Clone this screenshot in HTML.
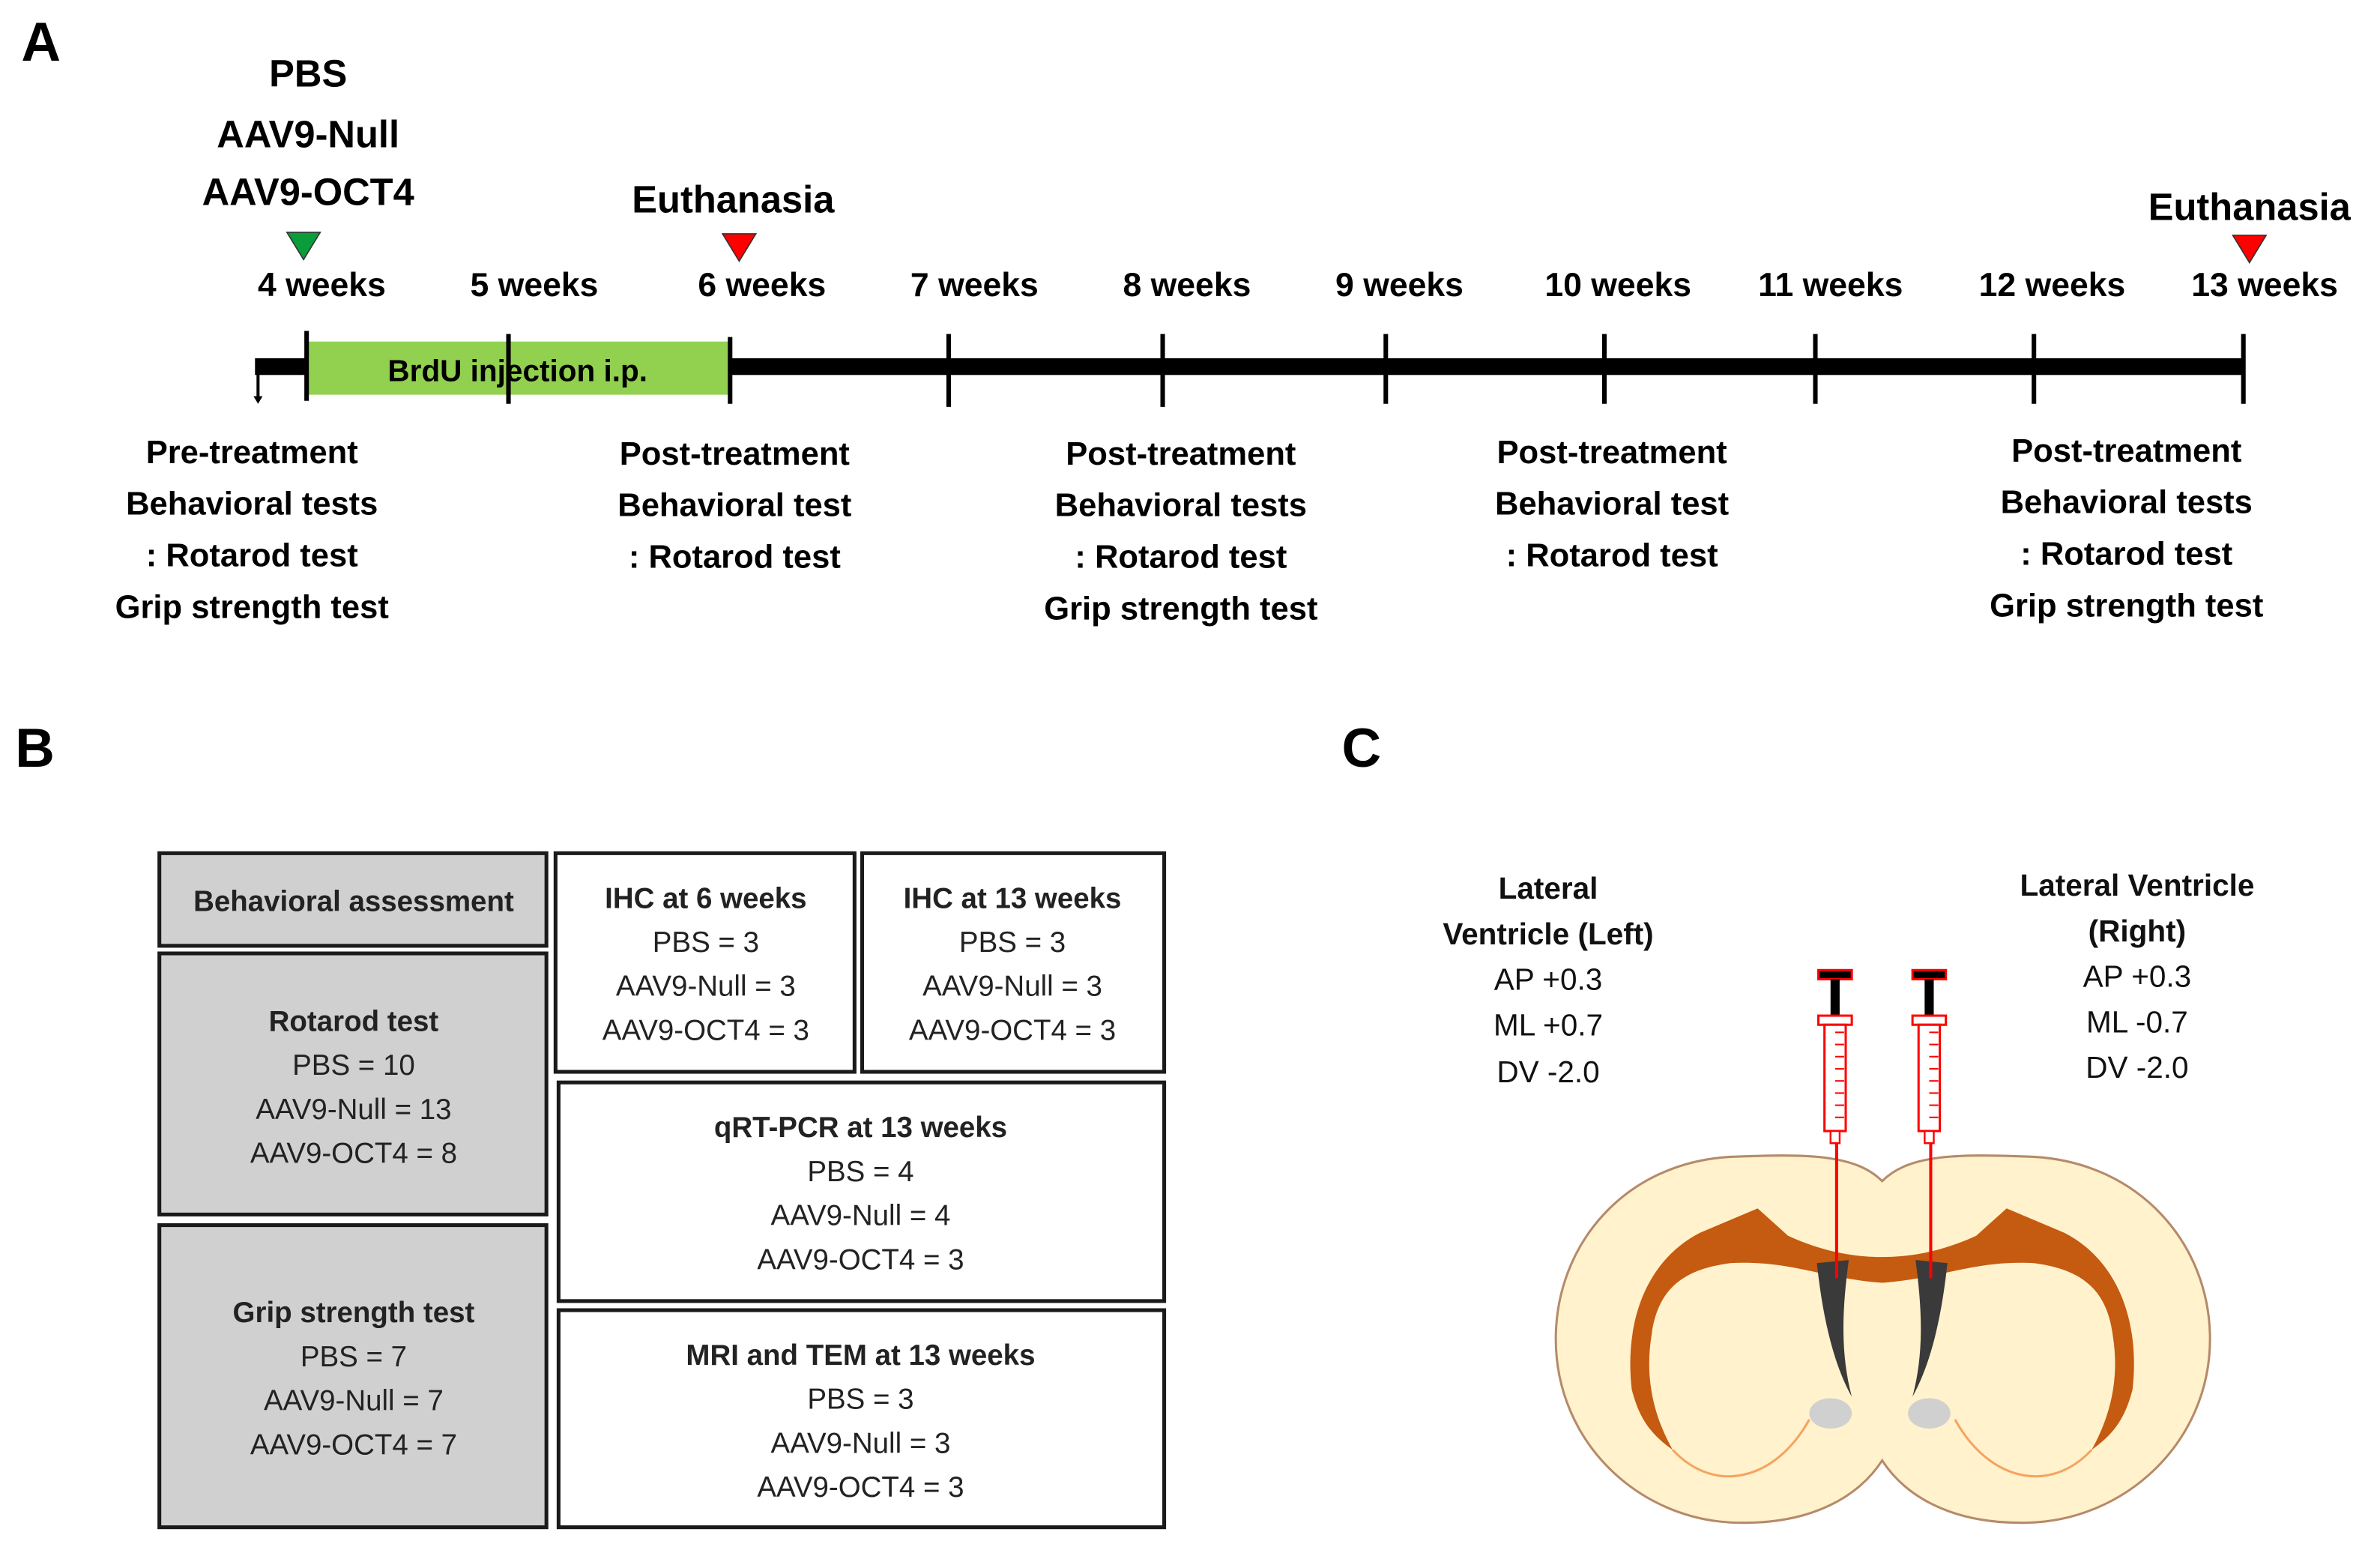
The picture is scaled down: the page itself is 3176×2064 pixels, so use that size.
<!DOCTYPE html>
<html><head><meta charset="utf-8"><style>html,body{margin:0;padding:0;background:#fff}svg{display:block}text{font-family:"Liberation Sans",sans-serif}</style></head><body>
<svg width="3176" height="2064" viewBox="0 0 1568 1019" preserveAspectRatio="none" xmlns="http://www.w3.org/2000/svg">
<rect width="1568" height="1019" fill="#fff"/>
<g font-weight="bold" fill="#000">
<text x="14" y="40" font-size="36">A</text>
<text x="10" y="505" font-size="36">B</text>
<text x="884" y="505" font-size="36">C</text>
</g>
<g font-weight="bold" font-size="25" text-anchor="middle" fill="#000">
<text x="203" y="57">PBS</text>
<text x="203" y="97">AAV9-Null</text>
<text x="203" y="135">AAV9-OCT4</text>
<text x="483" y="140">Euthanasia</text>
<text x="1482" y="145">Euthanasia</text>
</g>
<polygon points="189,153 211,153 200,171" fill="#0a9d3a" stroke="#333" stroke-width="0.8"/>
<polygon points="476,154 498,154 487,172" fill="#f00" stroke="#333" stroke-width="0.8"/>
<polygon points="1471,155 1493,155 1482,173" fill="#f00" stroke="#333" stroke-width="0.8"/>
<g font-weight="bold" font-size="22" text-anchor="middle">
<text x="212" y="195">4 weeks</text><text x="352" y="195">5 weeks</text><text x="502" y="195">6 weeks</text>
<text x="642" y="195">7 weeks</text><text x="782" y="195">8 weeks</text><text x="922" y="195">9 weeks</text>
<text x="1066" y="195">10 weeks</text><text x="1206" y="195">11 weeks</text><text x="1352" y="195">12 weeks</text><text x="1492" y="195">13 weeks</text>
</g>
<rect x="168" y="236" width="1311" height="11" fill="#000"/>
<line x1="170" y1="241" x2="170" y2="262" stroke="#000" stroke-width="2"/>
<polygon points="167,261 173,261 170,266" fill="#000"/>
<rect x="203" y="225" width="277" height="35" fill="#92d050"/>
<text x="341" y="251" font-weight="bold" font-size="20" text-anchor="middle">BrdU injection i.p.</text>
<g stroke="#000" stroke-width="3">
<line x1="202" y1="218" x2="202" y2="264"/><line x1="335" y1="220" x2="335" y2="266"/><line x1="481" y1="222" x2="481" y2="266"/>
<line x1="625" y1="220" x2="625" y2="268"/><line x1="766" y1="220" x2="766" y2="268"/><line x1="913" y1="220" x2="913" y2="266"/>
<line x1="1057" y1="220" x2="1057" y2="266"/><line x1="1196" y1="220" x2="1196" y2="266"/><line x1="1340" y1="220" x2="1340" y2="266"/><line x1="1478" y1="220" x2="1478" y2="266"/>
</g>
<g font-weight="bold" font-size="21.5" text-anchor="middle">
<text x="166" y="305">Pre-treatment</text><text x="166" y="339">Behavioral tests</text><text x="166" y="373">: Rotarod test</text><text x="166" y="407">Grip strength test</text>
<text x="484" y="306">Post-treatment</text><text x="484" y="340">Behavioral test</text><text x="484" y="374">: Rotarod test</text>
<text x="778" y="306">Post-treatment</text><text x="778" y="340">Behavioral tests</text><text x="778" y="374">: Rotarod test</text><text x="778" y="408">Grip strength test</text>
<text x="1062" y="305">Post-treatment</text><text x="1062" y="339">Behavioral test</text><text x="1062" y="373">: Rotarod test</text>
<text x="1401" y="304">Post-treatment</text><text x="1401" y="338">Behavioral tests</text><text x="1401" y="372">: Rotarod test</text><text x="1401" y="406">Grip strength test</text>
</g>
<g stroke="#1a1a1a" stroke-width="2.5">
<rect x="105" y="562" width="255" height="61" fill="#d0d0d0"/>
<rect x="105" y="628" width="255" height="172" fill="#d0d0d0"/>
<rect x="105" y="807" width="255" height="199" fill="#d0d0d0"/>
<rect x="366" y="562" width="197" height="144" fill="#fff"/>
<rect x="568" y="562" width="199" height="144" fill="#fff"/>
<rect x="368" y="713" width="399" height="144" fill="#fff"/>
<rect x="368" y="863" width="399" height="143" fill="#fff"/>
</g>
<g font-size="19" text-anchor="middle" fill="#222">
<text x="233" y="600" font-weight="bold">Behavioral assessment</text>
<text x="233" y="679" font-weight="bold">Rotarod test</text><text x="233" y="708">PBS = 10</text><text x="233" y="737">AAV9-Null = 13</text><text x="233" y="766">AAV9-OCT4 = 8</text>
<text x="233" y="871" font-weight="bold">Grip strength test</text><text x="233" y="900">PBS = 7</text><text x="233" y="929">AAV9-Null = 7</text><text x="233" y="958">AAV9-OCT4 = 7</text>
<text x="465" y="598" font-weight="bold">IHC at 6 weeks</text><text x="465" y="627">PBS = 3</text><text x="465" y="656">AAV9-Null = 3</text><text x="465" y="685">AAV9-OCT4 = 3</text>
<text x="667" y="598" font-weight="bold">IHC at 13 weeks</text><text x="667" y="627">PBS = 3</text><text x="667" y="656">AAV9-Null = 3</text><text x="667" y="685">AAV9-OCT4 = 3</text>
<text x="567" y="749" font-weight="bold">qRT-PCR  at 13 weeks</text><text x="567" y="778">PBS = 4</text><text x="567" y="807">AAV9-Null = 4</text><text x="567" y="836">AAV9-OCT4 = 3</text>
<text x="567" y="899" font-weight="bold">MRI and TEM at 13 weeks</text><text x="567" y="928">PBS = 3</text><text x="567" y="957">AAV9-Null = 3</text><text x="567" y="986">AAV9-OCT4 = 3</text>
</g>
<g font-size="20" text-anchor="middle" fill="#111">
<text x="1020" y="592" font-weight="bold">Lateral</text><text x="1020" y="622" font-weight="bold">Ventricle (Left)</text>
<text x="1020" y="652">AP +0.3</text><text x="1020" y="682">ML +0.7</text><text x="1020" y="713">DV -2.0</text>
<text x="1408" y="590" font-weight="bold">Lateral Ventricle</text><text x="1408" y="620" font-weight="bold">(Right)</text>
<text x="1408" y="650">AP +0.3</text><text x="1408" y="680">ML -0.7</text><text x="1408" y="710">DV -2.0</text>
</g>
<path d="M1240,778 C1222,760 1190,760 1140,762 C1070,766 1025,820 1025,882 C1025,950 1080,1002 1145,1003 C1195,1004 1225,985 1240,962 C1255,985 1285,1004 1335,1003 C1400,1002 1456,950 1456,882 C1456,820 1410,766 1340,762 C1290,760 1258,760 1240,778 Z" fill="#fff2cc" stroke="#b58a6a" stroke-width="1.5"/>
<path d="M1075,915 C1070,870 1085,830 1120,812 L1158,796 L1178,814 C1200,824 1220,828 1240,828 C1260,828 1280,824 1302,814 L1322,796 L1360,812 C1395,830 1410,870 1405,915 C1400,935 1392,945 1378,955 C1392,930 1396,905 1392,880 C1388,848 1370,836 1340,832 C1300,830 1280,842 1240,845 C1200,842 1180,830 1140,832 C1110,836 1092,848 1088,880 C1084,905 1088,930 1102,955 C1088,945 1080,935 1075,915 Z" fill="#c55a11"/>
<path d="M1102,955 C1130,985 1170,975 1192,935" fill="none" stroke="#f4a460" stroke-width="1.5"/>
<path d="M1378,955 C1350,985 1310,975 1288,935" fill="none" stroke="#f4a460" stroke-width="1.5"/>
<path d="M1197,832 L1218,830 C1214,860 1212,890 1220,920 C1206,895 1200,860 1197,832 Z" fill="#3a3a3a"/>
<path d="M1283,832 L1262,830 C1266,860 1268,890 1260,920 C1274,895 1280,860 1283,832 Z" fill="#3a3a3a"/>
<ellipse cx="1206" cy="931" rx="14" ry="10" fill="#d0d0d0"/>
<ellipse cx="1271" cy="931" rx="14" ry="10" fill="#d0d0d0"/>
<g>
<line x1="1210" y1="752" x2="1210" y2="842" stroke="#f00" stroke-width="2"/>
<line x1="1272" y1="752" x2="1272" y2="842" stroke="#f00" stroke-width="2"/>
<rect x="1198" y="639" width="22" height="6" fill="#000" stroke="#f00" stroke-width="1.5"/>
<rect x="1206" y="645" width="6" height="24" fill="#000"/>
<rect x="1198" y="669" width="22" height="6" fill="#fff" stroke="#f00" stroke-width="1.5"/>
<rect x="1202" y="675" width="14" height="70" fill="#fff" stroke="#f00" stroke-width="1.5"/>
<rect x="1206" y="745" width="6" height="8" fill="#fff" stroke="#f00" stroke-width="1.2"/>
<rect x="1260" y="639" width="22" height="6" fill="#000" stroke="#f00" stroke-width="1.5"/>
<rect x="1268" y="645" width="6" height="24" fill="#000"/>
<rect x="1260" y="669" width="22" height="6" fill="#fff" stroke="#f00" stroke-width="1.5"/>
<rect x="1264" y="675" width="14" height="70" fill="#fff" stroke="#f00" stroke-width="1.5"/>
<rect x="1268" y="745" width="6" height="8" fill="#fff" stroke="#f00" stroke-width="1.2"/>
<g stroke="#f00" stroke-width="1">
<line x1="1209" y1="680" x2="1215" y2="680"/><line x1="1209" y1="688" x2="1215" y2="688"/><line x1="1209" y1="696" x2="1215" y2="696"/><line x1="1209" y1="704" x2="1215" y2="704"/><line x1="1209" y1="712" x2="1215" y2="712"/><line x1="1209" y1="720" x2="1215" y2="720"/><line x1="1209" y1="728" x2="1215" y2="728"/><line x1="1209" y1="736" x2="1215" y2="736"/>
<line x1="1271" y1="680" x2="1277" y2="680"/><line x1="1271" y1="688" x2="1277" y2="688"/><line x1="1271" y1="696" x2="1277" y2="696"/><line x1="1271" y1="704" x2="1277" y2="704"/><line x1="1271" y1="712" x2="1277" y2="712"/><line x1="1271" y1="720" x2="1277" y2="720"/><line x1="1271" y1="728" x2="1277" y2="728"/><line x1="1271" y1="736" x2="1277" y2="736"/>
</g>
</g>
</svg>
</body></html>
